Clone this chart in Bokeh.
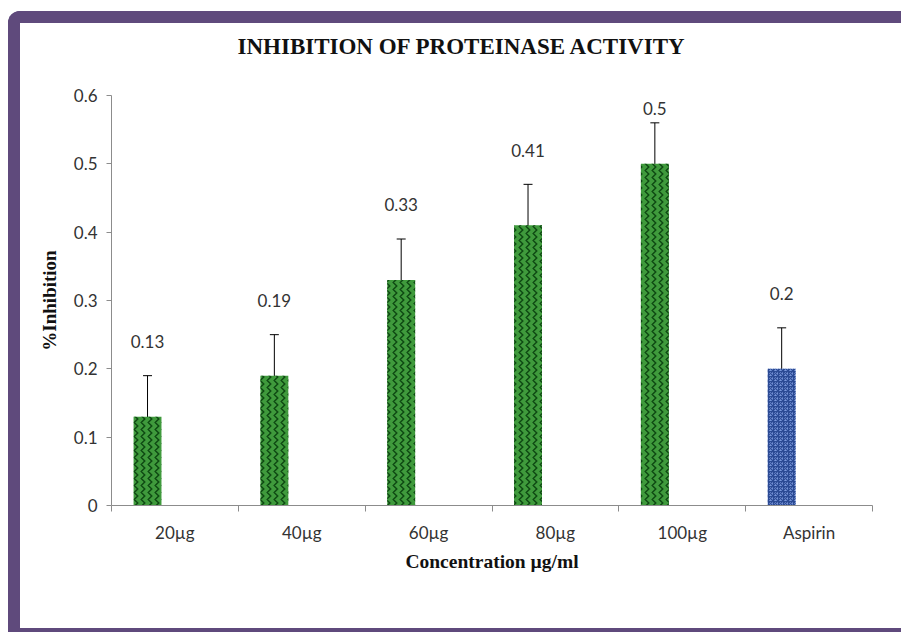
import numpy as np
from bokeh.plotting import figure
from bokeh.models import (ColumnDataSource, FixedTicker, CustomJSTickFormatter,
                          Whisker, Title, Range1d)
from bokeh.core.properties import value
from bokeh.embed import file_html
from bokeh.resources import INLINE

# ---- data ----
categories = ["20µg", "40µg", "60µg", "80µg", "100µg", "Aspirin"]
inhibition = [0.13, 0.19, 0.33, 0.41, 0.50, 0.20]
errors = [0.06, 0.06, 0.06, 0.06, 0.06, 0.06]
value_labels = ["0.13", "0.19", "0.33", "0.41", "0.5", "0.2"]
y_ticks = [0.0, 0.1, 0.2, 0.3, 0.4, 0.5, 0.6]
title_text = "INHIBITION OF PROTEINASE ACTIVITY"

PURPLE = "#5f4a7c"
AXIS = "#8c8c8c"
TXT = "#333333"

n = len(categories)
idx = np.arange(n)
vals = np.array(inhibition)
errs = np.array(errors)
bar_x = idx + 0.5 - 0.216
bar_w = 0.22

src = ColumnDataSource(dict(
    x=bar_x, top=vals, upper=vals + errs, lower=vals - errs,
    label=value_labels, ly=np.minimum(vals + 0.11, 0.581),
))
green = ColumnDataSource(dict(x=bar_x[:5], top=vals[:5]))
blue = ColumnDataSource(dict(x=bar_x[5:], top=vals[5:]))

p = figure(width=881, height=605, output_backend="svg", toolbar_location=None,
           x_range=Range1d(0, n), y_range=Range1d(0, 0.6),
           min_border_left=91, min_border_right=41,
           min_border_top=72, min_border_bottom=147)
p.styles = {
    "margin-left": "8px", "margin-top": "11px",
    "border-left": f"12px solid {PURPLE}",
    "border-top": f"12px solid {PURPLE}",
    "border-bottom": f"12px solid {PURPLE}",
    "border-top-left-radius": "12px",
    "box-sizing": "content-box",
}
# real title (outermost) and an empty spacer panel between it and the frame
p.title = Title(text=title_text, align="left", offset=126,
                text_font="Liberation Serif", text_font_size="23px",
                text_font_style="bold", text_color="#111111", standoff=0)
p.add_layout(Title(text=" ", text_font_size="1px", standoff=34), "above")

p.background_fill_color = "white"
p.border_fill_color = "white"
p.outline_line_color = None
p.grid.visible = False

# bars
p.vbar(x="x", top="top", bottom=0, width=bar_w, source=green,
       fill_color="#3f9a3c", line_color=None,
       hatch_pattern="vertical_wave", hatch_color="#0e4a12", hatch_scale=7, hatch_weight=1.5)
p.vbar(x="x", top="top", bottom=0, width=bar_w, source=blue,
       fill_color="#7896da", line_color=None,
       hatch_pattern="criss_cross", hatch_color="#2b4a94", hatch_scale=5, hatch_weight=1.2)

# error bars
w = Whisker(base="x", upper="upper", lower="lower", source=src,
            line_color="black", line_width=1)
w.upper_head.size = 9
w.lower_head.size = 9
w.upper_head.line_color = "black"
w.lower_head.line_color = "black"
p.add_layout(w)

# value labels
p.text(x="x", y="ly", text="label", source=src, text_align="center",
       text_baseline="middle", text_font=value("Lato"), text_font_size="17px",
       text_color=TXT)

# x axis
xa = p.xaxis[0]
xa.ticker = FixedTicker(ticks=list(idx + 0.5), minor_ticks=list(range(n + 1)))
xa.formatter = CustomJSTickFormatter(args=dict(labels=categories),
                                     code="return labels[Math.floor(tick)];")
xa.major_tick_out = 0
xa.major_tick_in = 0
xa.minor_tick_out = 6
xa.minor_tick_in = 0
xa.minor_tick_line_color = AXIS
xa.axis_line_color = AXIS
xa.major_label_text_font = "Lato"
xa.major_label_text_font_size = "17px"
xa.major_label_text_color = TXT
xa.major_label_standoff = 10
xa.axis_label = "Concentration µg/ml"
xa.axis_label_text_font = "Liberation Serif"
xa.axis_label_text_font_style = "bold"
xa.axis_label_text_font_size = "19.5px"
xa.axis_label_text_color = "#111111"
xa.axis_label_standoff = 5

# y axis
ya = p.yaxis[0]
ya.ticker = FixedTicker(ticks=y_ticks, minor_ticks=[])
ya.formatter = CustomJSTickFormatter(code="return String(Math.round(tick*10)/10);")
ya.major_tick_out = 5
ya.major_tick_in = 0
ya.major_tick_line_color = AXIS
ya.axis_line_color = AXIS
ya.major_label_text_font = "Lato"
ya.major_label_text_font_size = "17px"
ya.major_label_text_color = TXT
ya.major_label_standoff = 9
ya.axis_label = "%Inhibition"
ya.axis_label_text_font = "Liberation Serif"
ya.axis_label_text_font_style = "bold"
ya.axis_label_text_font_size = "19px"
ya.axis_label_text_color = "#111111"
ya.axis_label_standoff = 11

open("out.html", "w").write(file_html(p, INLINE))
